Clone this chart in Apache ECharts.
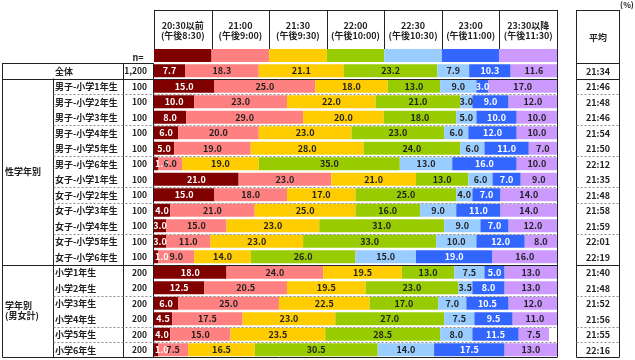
<!DOCTYPE html>
<html><head><meta charset="utf-8">
<script src="https://cdn.jsdelivr.net/npm/echarts@6/dist/echarts.min.js"></script>
<style>html,body{margin:0;padding:0;background:#fff}#c{width:635px;height:360px}</style>
</head><body><div id="c"></div>
<script>
const categories = ['全体','男子-小学1年生','男子-小学2年生','男子-小学3年生','男子-小学4年生','男子-小学5年生','男子-小学6年生',
  '女子-小学1年生','女子-小学2年生','女子-小学3年生','女子-小学4年生','女子-小学5年生','女子-小学6年生',
  '小学1年生','小学2年生','小学3年生','小学4年生','小学5年生','小学6年生'];
const nValues = ['1,200','100','100','100','100','100','100','100','100','100','100','100','100','200','200','200','200','200','200'];
const avgTimes = ['21:34','21:46','21:48','21:46','21:54','21:50','22:12','21:35','21:48','21:58','21:59','22:01','22:19','21:40','21:48','21:52','21:56','21:55','22:16'];
const timeSlots = ['20:30以前\n(午後8:30)','21:00\n(午後9:00)','21:30\n(午後9:30)','22:00\n(午後10:00)','22:30\n(午後10:30)','23:00\n(午後11:00)','23:30以降\n(午後11:30)'];
const groupLabels = ['性学年別','学年別\n(男女計)'];
const s2030 = [7.7,15.0,10.0,8.0,6.0,5.0,1.0,21.0,15.0,4.0,3.0,3.0,1.0,18.0,12.5,6.0,4.5,4.0,1.0];
const s2100 = [18.3,25.0,23.0,29.0,20.0,19.0,6.0,23.0,18.0,21.0,15.0,11.0,9.0,24.0,20.5,25.0,17.5,15.0,7.5];
const s2130 = [21.1,18.0,22.0,20.0,23.0,28.0,19.0,21.0,17.0,25.0,23.0,23.0,14.0,19.5,19.5,22.5,23.0,23.5,16.5];
const s2200 = [23.2,13.0,21.0,18.0,23.0,24.0,35.0,13.0,25.0,16.0,31.0,33.0,26.0,13.0,23.0,17.0,27.0,28.5,30.5];
const s2230 = [7.9,9.0,3.0,5.0,6.0,6.0,13.0,6.0,4.0,9.0,9.0,10.0,15.0,7.5,3.5,7.0,7.5,8.0,14.0];
const s2300 = [10.3,3.0,9.0,10.0,12.0,11.0,16.0,7.0,7.0,11.0,7.0,12.0,19.0,5.0,8.0,10.5,9.5,11.5,17.5];
const s2330 = [11.6,17.0,12.0,10.0,10.0,7.0,10.0,9.0,14.0,14.0,12.0,8.0,16.0,13.0,13.0,12.0,11.0,7.5,13.0];
const seriesValues = [s2030,s2100,s2130,s2200,s2230,s2300,s2330];
const colors = ['#800000','#FF8080','#FFCC00','#99CC00','#99CCFF','#3366FF','#CC99FF'];
const labelColors = ['#fff','#222','#222','#222','#222','#fff','#222'];

const FONT = '"Noto Sans CJK JP", sans-serif';
const GL = 154, GR = 557, GT = 63, RH = 15.5, N = categories.length, GB = GT + RH * N;
const HT = 10, HB = 49;
const AL = 576.5, AR = 619.5;
const colW = (GR - GL) / timeSlots.length;

const chart = echarts.init(document.getElementById('c'));
const series = [];
seriesValues.forEach((vals, k) => {
  series.push({
    type: 'bar', stack: 'all', name: timeSlots[k], xAxisIndex: 0, yAxisIndex: 0,
    barWidth: 13, itemStyle: {color: colors[k]},
    data: vals.map(v => ({value: v, label: v < 2 ? {position: 'insideLeft', distance: 1, color: '#fff'} : undefined})),
    label: {show: true, position: 'inside', formatter: p => p.value.toFixed(1), color: labelColors[k],
      fontSize: 9, fontWeight: 'bold', fontFamily: FONT},
    emphasis: {disabled: true}, silent: true, z: 3
  });
  series.push({
    type: 'bar', stack: 'band', xAxisIndex: 1, yAxisIndex: 1, barWidth: '100%',
    itemStyle: {color: colors[k]}, data: [1], silent: true
  });
});

const g = [];
function line(x1, y1, x2, y2, dashed, color) {
  g.push({type: 'line', z: 10, silent: true, shape: {x1, y1, x2, y2},
    style: {stroke: color || (dashed ? '#8a8a8a' : '#222'), lineWidth: 1, lineDash: dashed ? [2, 2] : null}});
}
function text(x, y, t, align, extra) {
  g.push({type: 'text', z: 11, silent: true, x, y,
    style: Object.assign({text: t, font: 'bold 9px ' + FONT, fill: '#222', align: align || 'left', verticalAlign: 'middle', lineHeight: 10}, extra || {})});
}
const rowY = i => GT + RH * i;
// header
line(GL, HT + 0.5, GR, HT + 0.5);
for (let k = 0; k <= timeSlots.length; k++) {
  const x = Math.round(GL + colW * k) + 0.5;
  line(x, HT, x, HB);
}
timeSlots.forEach((t, k) => text(GL + colW * (k + 0.5), (HT + HB) / 2 + 1, t, 'center'));
// left table
line(2.5, GT + 0.5, GL, GT + 0.5);
line(2.5, GT, 2.5, GB);
line(2.5, GB, GR, GB);
line(123.5, GT, 123.5, GB);
line(153.5, GT, 153.5, GB);
line(53.5, rowY(1), 53.5, GB);
line(GR + 0.5, HT, GR + 0.5, GB);
// avg column
line(AL, HT + 0.5, AR, HT + 0.5);
line(AL, HT, AL, GB);
line(AR, HT, AR, GB);
line(AL, GB, AR, GB);
line(AL, GT + 0.5, AR, GT + 0.5);
const solidB = [1, 13];
const dashedB = [2, 4, 6, 8, 9, 11, 15, 17, 18];
solidB.forEach(i => { const y = Math.round(rowY(i)) + 0.5; line(2.5, y, GR, y); line(AL, y, AR, y); });
dashedB.forEach(i => { const y = Math.round(rowY(i)) + 0.5; line(53.5, y, GR, y, true); line(AL, y, AR, y, true); });
// texts
categories.forEach((c, i) => {
  const y = rowY(i) + RH / 2 + 0.5;
  text(55, y, c, 'left');
  text(147, y, nValues[i], 'right', {font: 'bold 8.5px ' + FONT});
  text((AL + AR) / 2, y, avgTimes[i], 'center');
});
text(5, (rowY(1) + rowY(13)) / 2, groupLabels[0], 'left');
text(5, (rowY(13) + GB) / 2, groupLabels[1], 'left');
text((AL + AR) / 2, (HT + GT) / 2 + 1, '平均', 'center');
text(138, 57.5, 'n=', 'center');
text(627, 5, '(%)', 'center', {font: 'bold 8px ' + FONT});

chart.setOption({
  animation: false,
  grid: [
    {left: GL, top: GT, width: GR - GL, height: RH * N},
    {left: GL, top: HB, width: GR - GL, height: 13}
  ],
  xAxis: [
    {type: 'value', min: 0, max: 100, show: false, gridIndex: 0},
    {type: 'value', min: 0, max: timeSlots.length, show: false, gridIndex: 1}
  ],
  yAxis: [
    {type: 'category', data: categories, inverse: true, show: false, gridIndex: 0},
    {type: 'category', data: ['band'], show: false, gridIndex: 1}
  ],
  series,
  graphic: g
});
</script></body></html>
